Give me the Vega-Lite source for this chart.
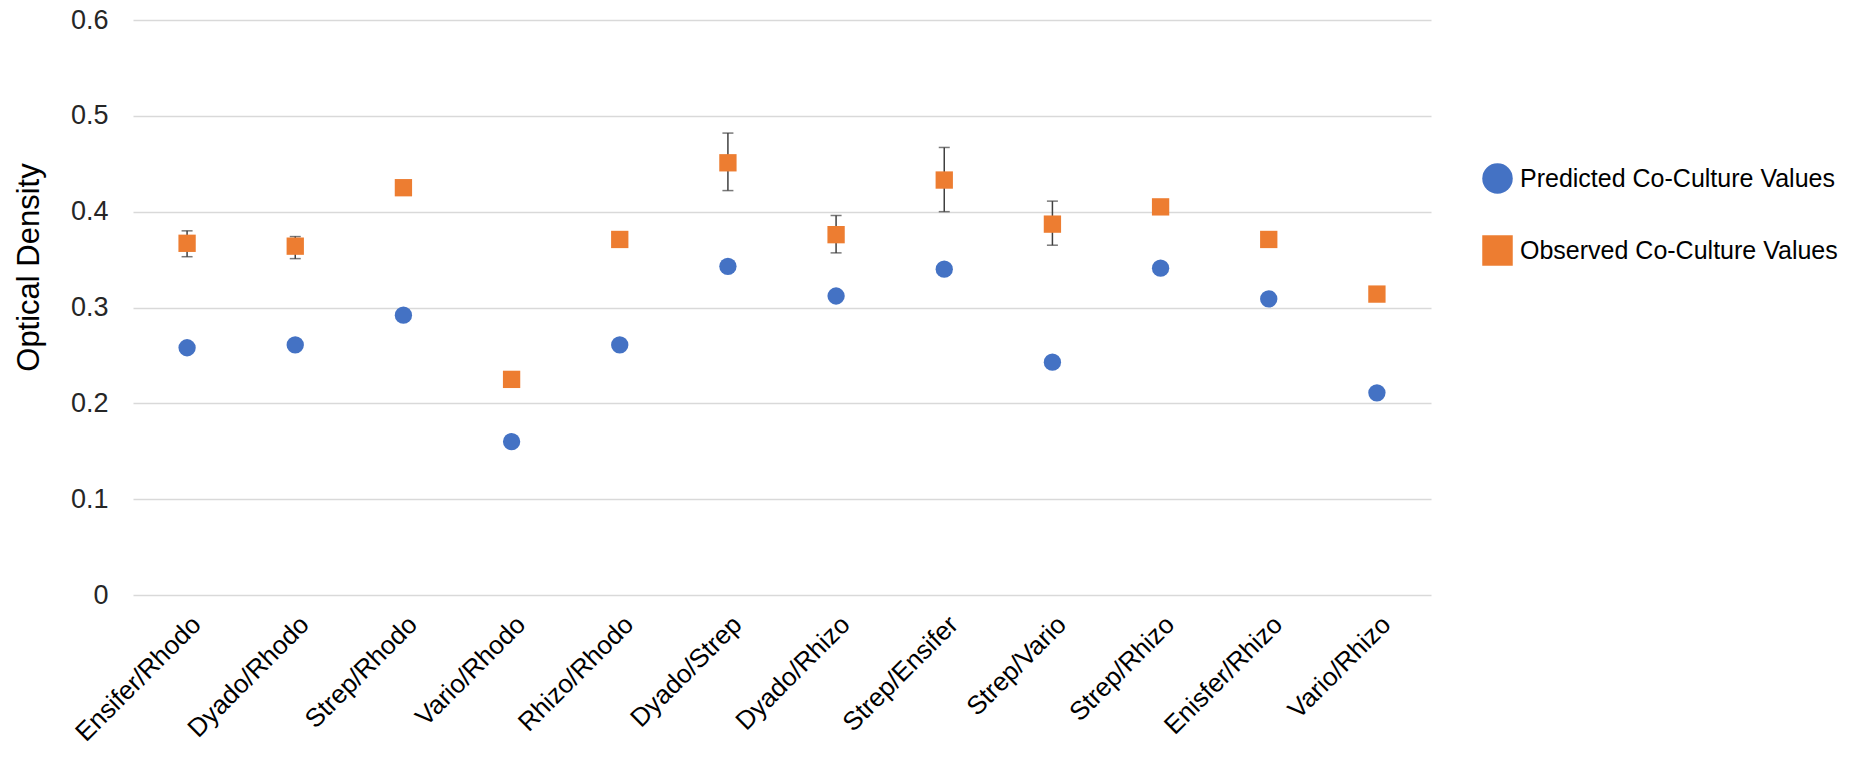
{
  "$schema": "https://vega.github.io/schema/vega-lite/v6.json",
  "width": 1298,
  "height": 575,
  "autosize": "none",
  "padding": {"left": 133, "top": 20, "right": 420, "bottom": 164},
  "background": "white",
  "config": {
    "view": {"stroke": null},
    "font": "Liberation Sans"
  },
  "data": {
    "values": [
      {"pair": "Ensifer/Rhodo", "series": "Predicted Co-Culture Values", "value": 0.258},
      {"pair": "Dyado/Rhodo", "series": "Predicted Co-Culture Values", "value": 0.261},
      {"pair": "Strep/Rhodo", "series": "Predicted Co-Culture Values", "value": 0.292},
      {"pair": "Vario/Rhodo", "series": "Predicted Co-Culture Values", "value": 0.160},
      {"pair": "Rhizo/Rhodo", "series": "Predicted Co-Culture Values", "value": 0.261},
      {"pair": "Dyado/Strep", "series": "Predicted Co-Culture Values", "value": 0.343},
      {"pair": "Dyado/Rhizo", "series": "Predicted Co-Culture Values", "value": 0.312},
      {"pair": "Strep/Ensifer", "series": "Predicted Co-Culture Values", "value": 0.340},
      {"pair": "Strep/Vario", "series": "Predicted Co-Culture Values", "value": 0.243},
      {"pair": "Strep/Rhizo", "series": "Predicted Co-Culture Values", "value": 0.341},
      {"pair": "Enisfer/Rhizo", "series": "Predicted Co-Culture Values", "value": 0.309},
      {"pair": "Vario/Rhizo", "series": "Predicted Co-Culture Values", "value": 0.211},
      {"pair": "Ensifer/Rhodo", "series": "Observed Co-Culture Values", "value": 0.367, "lo": 0.353, "hi": 0.380},
      {"pair": "Dyado/Rhodo", "series": "Observed Co-Culture Values", "value": 0.364, "lo": 0.351, "hi": 0.374},
      {"pair": "Strep/Rhodo", "series": "Observed Co-Culture Values", "value": 0.425},
      {"pair": "Vario/Rhodo", "series": "Observed Co-Culture Values", "value": 0.225},
      {"pair": "Rhizo/Rhodo", "series": "Observed Co-Culture Values", "value": 0.371},
      {"pair": "Dyado/Strep", "series": "Observed Co-Culture Values", "value": 0.451, "lo": 0.422, "hi": 0.482},
      {"pair": "Dyado/Rhizo", "series": "Observed Co-Culture Values", "value": 0.376, "lo": 0.357, "hi": 0.396},
      {"pair": "Strep/Ensifer", "series": "Observed Co-Culture Values", "value": 0.433, "lo": 0.400, "hi": 0.467},
      {"pair": "Strep/Vario", "series": "Observed Co-Culture Values", "value": 0.387, "lo": 0.365, "hi": 0.411},
      {"pair": "Strep/Rhizo", "series": "Observed Co-Culture Values", "value": 0.405},
      {"pair": "Enisfer/Rhizo", "series": "Observed Co-Culture Values", "value": 0.371},
      {"pair": "Vario/Rhizo", "series": "Observed Co-Culture Values", "value": 0.314}
    ]
  },
  "encoding": {
    "x": {
      "field": "pair",
      "type": "nominal",
      "sort": ["Ensifer/Rhodo", "Dyado/Rhodo", "Strep/Rhodo", "Vario/Rhodo", "Rhizo/Rhodo", "Dyado/Strep", "Dyado/Rhizo", "Strep/Ensifer", "Strep/Vario", "Strep/Rhizo", "Enisfer/Rhizo", "Vario/Rhizo"],
      "scale": {"type": "point", "padding": 0.5},
      "axis": {
        "title": null,
        "labelAngle": -45,
        "labelFontSize": 26,
        "labelColor": "#000000",
        "labelPadding": 16,
        "labelLimit": 0,
        "domain": false,
        "ticks": false,
        "grid": false
      }
    }
  },
  "layer": [
    {
      "mark": {"type": "rule", "color": "#404040", "strokeWidth": 1.5},
      "transform": [{"filter": "isValid(datum.lo)"}],
      "encoding": {
        "y": {"field": "lo", "type": "quantitative"},
        "y2": {"field": "hi"}
      }
    },
    {
      "mark": {"type": "tick", "color": "#404040", "thickness": 1.5, "size": 11},
      "transform": [{"filter": "isValid(datum.lo)"}],
      "encoding": {
        "y": {"field": "lo", "type": "quantitative"}
      }
    },
    {
      "mark": {"type": "tick", "color": "#404040", "thickness": 1.5, "size": 11},
      "transform": [{"filter": "isValid(datum.hi)"}],
      "encoding": {
        "y": {"field": "hi", "type": "quantitative"}
      }
    },
    {
      "mark": {"type": "point", "filled": true, "opacity": 1, "size": 300},
      "encoding": {
        "y": {
          "field": "value",
          "type": "quantitative",
          "scale": {"domain": [0, 0.6]},
          "axis": {
            "title": "Optical Density",
            "titleFontSize": 31,
            "titleFontWeight": "normal",
            "titleColor": "#000000",
            "titleX": -104,
            "titleY": 247,
            "titleAngle": -90,
            "titleAlign": "center",
            "titleBaseline": "middle",
            "values": [0, 0.1, 0.2, 0.3, 0.4, 0.5, 0.6],
            "labelExpr": "datum.value == 0 ? '0' : format(datum.value, '.1f')",
            "labelFontSize": 27,
            "labelColor": "#262626",
            "labelPadding": 25,
            "domain": false,
            "ticks": false,
            "gridColor": "#d9d9d9",
            "gridWidth": 1.5
          }
        },
        "color": {
          "field": "series",
          "type": "nominal",
          "scale": {
            "domain": ["Predicted Co-Culture Values", "Observed Co-Culture Values"],
            "range": ["#4472c4", "#ed7d31"]
          },
          "legend": {
            "title": null,
            "orient": "none",
            "legendX": 1349,
            "legendY": 143,
            "labelFontSize": 25,
            "labelColor": "#000000",
            "labelLimit": 0,
            "symbolSize": 930,
            "symbolStrokeWidth": 0,
            "rowPadding": 41,
            "labelOffset": 7,
            "padding": 0
          }
        },
        "shape": {
          "field": "series",
          "type": "nominal",
          "scale": {
            "domain": ["Predicted Co-Culture Values", "Observed Co-Culture Values"],
            "range": ["circle", "square"]
          },
          "legend": null
        }
      }
    }
  ]
}
